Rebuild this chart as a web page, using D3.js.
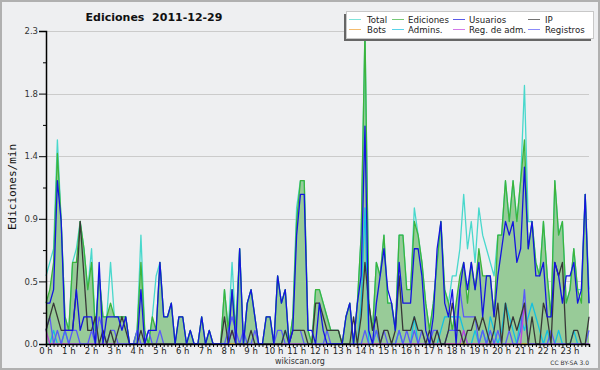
<!DOCTYPE html>
<html>
<head>
<meta charset="utf-8">
<script src="https://cdn.jsdelivr.net/npm/d3@7"></script>
<style>
  body { margin: 0; background: #fff; }
  svg { display: block; }
</style>
</head>
<body>
<div id="chart"></div>
<script>
// edits per minute, one value per 10-minute slot (6 per hour, 0 h .. 23 h)
const hours = d3.range(24).map(h => h + " h");

const ediciones = [
  0.3,0.4,0.6,1.4,0.9,0.2, 0.1,0.6,0.6,0.9,0.7,0.4, 0.6,0.1,0.5,0.2,0.2,0.3, 0.2,0.2,0.2,0.2,0.0,0.0,
  0.1,0.6,0.1,0.0,0.2,0.1, 0.6,0.2,0.2,0.3,0.0,0.2, 0.2,0.0,0.1,0.0,0.0,0.2, 0.0,0.1,0.0,0.0,0.0,0.4,
  0.1,0.4,0.1,0.7,0.0,0.3, 0.4,0.2,0.0,0.0,0.2,0.2, 0.0,0.5,0.3,0.4,0.0,0.2, 0.9,1.2,1.2,0.1,0.0,0.4,
  0.4,0.3,0.2,0.1,0.1,0.1, 0.0,0.2,0.3,0.0,0.3,0.8, 2.3,0.3,0.1,0.6,0.5,0.8, 0.3,0.3,0.1,0.8,0.8,0.4,
  0.4,0.9,0.8,0.6,0.3,0.1, 0.3,0.6,0.9,0.4,0.3,0.1, 0.3,0.5,0.6,0.3,0.6,0.4, 0.7,0.5,0.5,0.5,0.2,0.8,
  0.8,1.2,0.9,1.2,0.9,1.2, 1.5,0.7,0.9,0.6,0.5,0.9, 0.5,0.2,1.2,0.8,0.9,0.3, 0.4,0.7,0.4,0.3,1.1,0.3
];

const total = [
  0.5,0.6,0.7,1.5,0.9,0.2, 0.1,0.6,0.7,0.9,0.7,0.4, 0.7,0.1,0.5,0.2,0.2,0.6, 0.2,0.2,0.2,0.2,0.0,0.0,
  0.1,0.8,0.1,0.0,0.2,0.5, 0.6,0.2,0.2,0.3,0.0,0.2, 0.2,0.0,0.1,0.0,0.0,0.2, 0.0,0.1,0.0,0.0,0.0,0.4,
  0.1,0.6,0.1,0.7,0.0,0.3, 0.4,0.2,0.0,0.0,0.2,0.2, 0.0,0.5,0.3,0.4,0.0,0.2, 1.0,1.2,1.2,0.1,0.0,0.4,
  0.4,0.3,0.2,0.1,0.1,0.1, 0.0,0.2,0.3,0.0,0.3,0.8, 2.3,0.3,0.1,0.6,0.5,0.8, 0.3,0.3,0.1,0.8,0.8,0.4,
  0.4,1.0,0.8,0.6,0.3,0.1, 0.3,0.6,0.9,0.4,0.3,0.5, 0.5,0.7,1.1,0.7,0.9,0.6, 1.0,0.8,0.7,0.6,0.5,0.8,
  0.8,1.2,0.9,1.2,0.9,1.2, 1.9,0.9,0.9,0.6,0.5,0.9, 0.5,0.2,1.2,0.8,0.9,0.3, 0.4,0.7,0.4,0.4,1.1,0.4
];

const usuarios = [
  0.3,0.3,0.4,1.2,0.9,0.1, 0.1,0.1,0.4,0.1,0.2,0.2, 0.2,0.0,0.6,0.0,0.2,0.2, 0.2,0.2,0.1,0.2,0.0,0.0,
  0.0,0.4,0.0,0.1,0.1,0.1, 0.6,0.2,0.2,0.3,0.0,0.2, 0.2,0.0,0.1,0.0,0.0,0.2, 0.0,0.1,0.0,0.0,0.0,0.0,
  0.0,0.4,0.0,0.7,0.0,0.3, 0.4,0.2,0.0,0.0,0.2,0.2, 0.0,0.5,0.3,0.4,0.0,0.1, 0.8,1.1,1.1,0.1,0.1,0.0,
  0.3,0.1,0.0,0.0,0.0,0.0, 0.0,0.2,0.3,0.0,0.3,0.5, 1.6,0.1,0.0,0.3,0.5,0.7, 0.4,0.3,0.1,0.6,0.3,0.3,
  0.3,0.7,0.7,0.5,0.1,0.0, 0.2,0.7,0.9,0.3,0.2,0.4, 0.0,0.4,0.6,0.4,0.6,0.4, 0.6,0.2,0.5,0.5,0.2,0.5,
  0.7,0.9,0.8,0.9,0.6,0.7, 1.3,0.7,0.9,0.5,0.5,0.6, 0.2,0.2,0.6,0.5,0.3,0.5, 0.5,0.6,0.3,0.4,1.1,0.3
];

const ip = [
  0.1,0.2,0.3,0.2,0.1,0.1, 0.1,0.1,0.4,0.9,0.5,0.1, 0.1,0.2,0.0,0.1,0.0,0.1, 0.0,0.1,0.2,0.1,0.0,0.0,
  0.0,0.1,0.0,0.0,0.0,0.0, 0.0,0.0,0.0,0.0,0.0,0.0, 0.0,0.0,0.0,0.0,0.0,0.0, 0.0,0.0,0.0,0.0,0.0,0.2,
  0.0,0.1,0.0,0.0,0.0,0.0, 0.1,0.0,0.0,0.0,0.0,0.0, 0.0,0.0,0.0,0.1,0.0,0.1, 0.1,0.1,0.1,0.0,0.0,0.3,
  0.3,0.2,0.1,0.1,0.1,0.1, 0.0,0.0,0.0,0.2,0.0,0.2, 0.6,0.3,0.1,0.2,0.0,0.1, 0.1,0.0,0.1,0.5,0.1,0.1,
  0.1,0.2,0.1,0.1,0.0,0.1, 0.0,0.1,0.0,0.0,0.1,0.3, 0.1,0.1,0.0,0.1,0.1,0.2, 0.1,0.2,0.1,0.0,0.1,0.3,
  0.0,0.3,0.1,0.2,0.1,0.2, 0.3,0.0,0.2,0.0,0.0,0.3, 0.2,0.0,0.6,0.5,0.6,0.0, 0.0,0.1,0.1,0.0,0.0,0.2
];

const registros = [
  0.1,0.2,0.0,0.1,0.0,0.1, 0.0,0.1,0.1,0.0,0.0,0.0, 0.1,0.0,0.2,0.1,0.0,0.1, 0.1,0.0,0.0,0.0,0.0,0.0,
  0.1,0.0,0.0,0.1,0.0,0.0, 0.1,0.0,0.0,0.0,0.0,0.0, 0.0,0.0,0.0,0.0,0.0,0.0, 0.0,0.0,0.0,0.0,0.0,0.0,
  0.1,0.2,0.1,0.0,0.1,0.0, 0.0,0.1,0.0,0.0,0.0,0.0, 0.0,0.1,0.1,0.0,0.0,0.1, 0.1,0.1,0.0,0.0,0.0,0.0,
  0.0,0.0,0.1,0.0,0.0,0.0, 0.0,0.0,0.0,0.0,0.0,0.0, 0.1,0.0,0.0,0.1,0.0,0.1, 0.0,0.0,0.0,0.1,0.0,0.1,
  0.0,0.1,0.0,0.1,0.0,0.0, 0.1,0.1,0.0,0.0,0.1,0.1, 0.1,0.4,0.2,0.2,0.2,0.2, 0.0,0.1,0.0,0.1,0.0,0.1,
  0.0,0.0,0.1,0.0,0.0,0.1, 0.4,0.0,0.0,0.0,0.0,0.0, 0.0,0.1,0.0,0.0,0.0,0.0, 0.0,0.0,0.0,0.0,0.0,0.1
];

const admins = [
  0.0,0.0,0.1,0.0,0.0,0.1, 0.0,0.0,0.0,0.0,0.0,0.0, 0.0,0.0,0.0,0.0,0.0,0.0, 0.0,0.0,0.0,0.0,0.0,0.0,
  0.0,0.0,0.0,0.0,0.0,0.0, 0.0,0.0,0.0,0.0,0.0,0.0, 0.0,0.0,0.0,0.0,0.0,0.0, 0.0,0.0,0.0,0.0,0.0,0.0,
  0.0,0.1,0.0,0.0,0.0,0.0, 0.0,0.0,0.0,0.0,0.0,0.0, 0.0,0.0,0.0,0.1,0.0,0.0, 0.0,0.0,0.0,0.0,0.0,0.0,
  0.0,0.0,0.0,0.0,0.0,0.0, 0.0,0.0,0.0,0.0,0.0,0.3, 1.0,0.0,0.0,0.1,0.0,0.0, 0.0,0.0,0.0,0.1,0.0,0.0,
  0.0,0.2,0.0,0.0,0.0,0.0, 0.0,0.0,0.1,0.2,0.2,0.2, 0.2,0.2,0.1,0.0,0.0,0.1, 0.0,0.1,0.0,0.2,0.1,0.0,
  0.1,0.3,0.2,0.1,0.0,0.2, 0.1,0.2,0.3,0.2,0.1,0.0, 0.1,0.0,0.0,0.1,0.0,0.0, 0.0,0.1,0.0,0.0,0.0,0.0
];

const regAdm = [
  0.1,0.0,0.0,0.0,0.0,0.0, 0.0,0.0,0.0,0.0,0.0,0.0, 0.0,0.0,0.0,0.0,0.0,0.0, 0.0,0.0,0.0,0.0,0.0,0.0,
  0.0,0.0,0.0,0.0,0.0,0.0, 0.0,0.0,0.0,0.0,0.0,0.0, 0.0,0.0,0.0,0.0,0.0,0.0, 0.0,0.0,0.0,0.0,0.0,0.0,
  0.0,0.1,0.0,0.0,0.0,0.0, 0.0,0.0,0.0,0.0,0.0,0.0, 0.0,0.0,0.0,0.0,0.0,0.0, 0.0,0.0,0.0,0.0,0.0,0.0,
  0.0,0.0,0.0,0.0,0.0,0.0, 0.0,0.0,0.0,0.0,0.0,0.0, 0.0,0.0,0.0,0.0,0.0,0.0, 0.0,0.0,0.0,0.0,0.0,0.0,
  0.0,0.0,0.0,0.0,0.0,0.0, 0.0,0.0,0.0,0.0,0.0,0.0, 0.0,0.0,0.1,0.0,0.0,0.0, 0.0,0.0,0.0,0.0,0.0,0.0,
  0.0,0.0,0.0,0.0,0.0,0.0, 0.3,0.0,0.0,0.0,0.0,0.0, 0.0,0.0,0.0,0.0,0.0,0.0, 0.0,0.0,0.0,0.0,0.0,0.0
];

const bots = d3.range(144).map(() => 0);

const legendNames = ["Total", "Ediciones", "Usuarios", "IP", "Bots", "Admins.", "Reg. de adm.", "Registros"];
const legendColors = ["#48d8cc", "#3cb43c", "#1414e0", "#383838", "#f0a030", "#14c0e0", "#c040e0", "#5a5af8"];

const width = 600, height = 370;
const margin = { top: 31, right: 11, bottom: 26, left: 46 };

const svg = d3.select("#chart")
    .append("svg")
    .attr("width", width)
    .attr("height", height);

svg.append("rect")
    .attr("x", 1).attr("y", 1)
    .attr("width", width - 2).attr("height", height - 2)
    .attr("fill", "#eeeff1")
    .attr("stroke", "#b0b0b0")
    .attr("stroke-width", 2);

const x = d3.scaleLinear()
    .domain([0, 143])
    .range([margin.left, width - margin.right]);

const y = d3.scaleLinear()
    .domain([0, 2.3])
    .range([height - margin.bottom, margin.top]);

const yTicks = d3.range(6).map(k => k * 0.46);
const yMinor = d3.range(5).map(k => k * 0.46 + 0.23);

// grid
svg.append("g")
    .selectAll("line")
    .data(yTicks.slice(1))
    .enter()
    .append("line")
    .attr("x1", x(0)).attr("x2", x(143))
    .attr("y1", d => Math.round(y(d)) + 0.5)
    .attr("y2", d => Math.round(y(d)) + 0.5)
    .attr("stroke", "#cbcbcb");

// Ediciones area
svg.append("path")
    .datum(ediciones)
    .attr("fill", "#98cb98")
    .attr("d", d3.area().x((d, i) => x(i)).y0(y(0)).y1(d => y(d)));

const line = d3.line().x((d, i) => x(i)).y(d => y(d));

const series = [
    { v: total, c: legendColors[0] },
    { v: ediciones, c: legendColors[1] },
    { v: bots, c: legendColors[4] },
    { v: admins, c: legendColors[5] },
    { v: regAdm, c: legendColors[6] },
    { v: registros, c: legendColors[7] },
    { v: ip, c: legendColors[3] },
    { v: usuarios, c: legendColors[2] }
];

svg.append("g")
    .selectAll("path")
    .data(series)
    .enter()
    .append("path")
    .attr("fill", "none")
    .attr("stroke", d => d.c)
    .attr("stroke-width", 1.3)
    .attr("stroke-linejoin", "round")
    .attr("d", d => line(d.v));

// y axis
const yAxis = svg.append("g")
    .attr("transform", `translate(${margin.left},0)`)
    .call(d3.axisLeft(y).tickValues(yTicks).tickFormat(d3.format(".1f")).tickSize(7).tickPadding(1))
    .style("font-family", "DejaVu Sans")
    .style("font-size", "8.5px");
yAxis.select(".domain").attr("stroke", "#000").attr("stroke-width", 1.5);
yAxis.selectAll("text").attr("fill", "#333");

svg.append("g")
    .attr("transform", `translate(${margin.left},0)`)
    .call(d3.axisLeft(y).tickValues(yMinor).tickFormat("").tickSize(3))
    .select(".domain").remove();

// x axis
const xAxis = svg.append("g")
    .attr("transform", `translate(0,${y(0)})`)
    .call(d3.axisBottom(x).tickValues(d3.range(144)).tickFormat("").tickSize(3));
xAxis.select(".domain").attr("stroke", "#000").attr("stroke-width", 1.5);

svg.append("g")
    .selectAll("text")
    .data(hours)
    .enter()
    .append("text")
    .attr("x", (d, i) => x(i * 6))
    .attr("y", y(0) + 10)
    .attr("text-anchor", "middle")
    .attr("fill", "#222")
    .style("font-family", "DejaVu Sans")
    .style("font-size", "8.5px")
    .text(d => d);

// titles
svg.append("text")
    .attr("x", 154).attr("y", 21)
    .attr("text-anchor", "middle")
    .attr("fill", "#111")
    .style("font-family", "DejaVu Sans")
    .style("font-weight", "bold")
    .style("font-size", "11px")
    .style("white-space", "pre")
    .text("Ediciones  2011-12-29");

svg.append("text")
    .attr("transform", "rotate(-90)")
    .attr("x", -187).attr("y", 16)
    .attr("text-anchor", "middle")
    .attr("fill", "#111")
    .style("font-family", "DejaVu Sans Mono")
    .style("font-size", "11px")
    .text("Ediciones/min");

svg.append("text")
    .attr("x", 300).attr("y", 364)
    .attr("text-anchor", "middle")
    .attr("fill", "#333")
    .style("font-family", "DejaVu Sans")
    .style("font-size", "8px")
    .text("wikiscan.org");

svg.append("text")
    .attr("x", 589).attr("y", 365)
    .attr("text-anchor", "end")
    .attr("fill", "#333")
    .style("font-family", "DejaVu Sans")
    .style("font-size", "6px")
    .text("CC BY-SA  3.0");

// legend
const legend = svg.append("g");
legend.append("rect")
    .attr("x", 344).attr("y", 14).attr("width", 247).attr("height", 27)
    .attr("fill", "#666");
legend.append("rect")
    .attr("x", 346.5).attr("y", 11.5).attr("width", 247).attr("height", 27)
    .attr("fill", "#fff").attr("stroke", "#c8c8c8");

const lineX = [349, 392, 453, 528];
const textX = [367, 408, 469, 545];
const items = legend.selectAll("g.item")
    .data(legendNames)
    .enter()
    .append("g")
    .attr("class", "item")
    .attr("transform", (d, i) => `translate(0,${i < 4 ? 19.5 : 29.5})`);

items.append("line")
    .attr("x1", (d, i) => lineX[i % 4])
    .attr("x2", (d, i) => lineX[i % 4] + 12)
    .attr("stroke", (d, i) => legendColors[i])
    .attr("stroke-opacity", 0.7)
    .attr("stroke-width", 1);

items.append("text")
    .attr("x", (d, i) => textX[i % 4])
    .attr("dy", "0.35em")
    .attr("fill", "#222")
    .style("font-family", "DejaVu Sans")
    .style("font-size", "8.6px")
    .text(d => d);
</script>
</body>
</html>
